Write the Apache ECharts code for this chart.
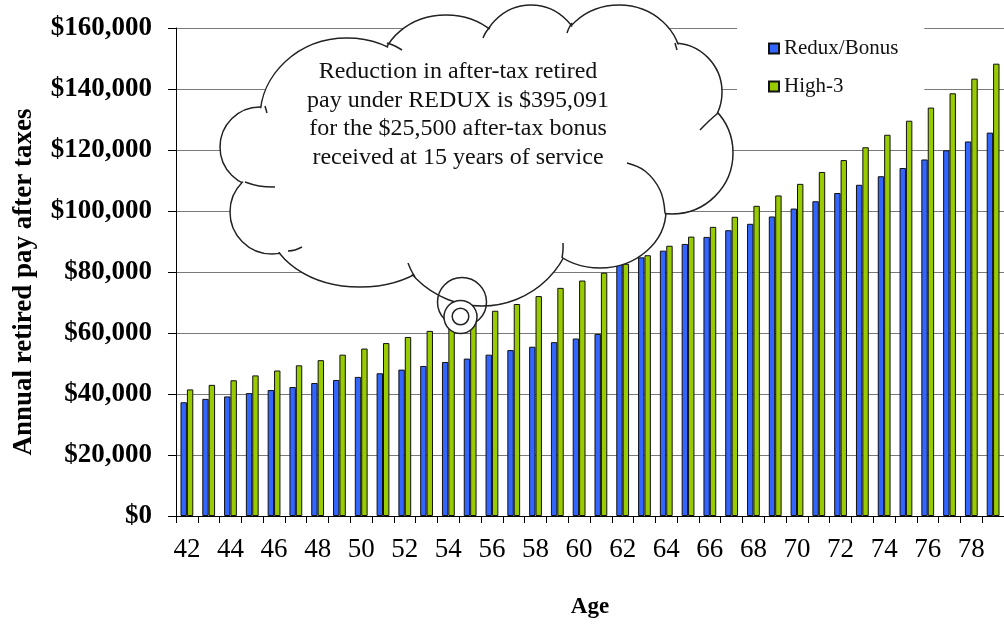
<!DOCTYPE html>
<html>
<head>
<meta charset="utf-8">
<script src="https://cdn.jsdelivr.net/npm/echarts@6/dist/echarts.min.js"></script>
<style>
  html, body { margin: 0; padding: 0; background: #fff; }
  #chart { width: 1004px; height: 626px; }
</style>
</head>
<body>
<div id="chart"></div>
<script>
// ages along the x axis
const ages = ['42','43','44','45','46','47','48','49','50','51','52','53','54','55','56','57','58','59','60','61',
  '62','63','64','65','66','67','68','69','70','71','72','73','74','75','76','77','78','79'];

// annual retired pay after taxes
const reduxBonus = [37300, 38400, 39200, 40300, 41300, 42300, 43600, 44600, 45600, 46800, 48000, 49200, 50500, 51600,
  52900, 54400, 55500, 57000, 58200, 59700, 82900, 84800, 87000, 89200, 91500, 93700, 95800, 98200, 100800, 103200,
  105900, 108600, 111400, 114100, 116900, 119900, 122800, 125700];
const high3 = [41500, 43000, 44500, 46100, 47700, 49400, 51100, 52900, 54900, 56700, 58700, 60700, 62800, 65000,
  67300, 69500, 72100, 74800, 77200, 79800, 82700, 85500, 88600, 91600, 94800, 98100, 101700, 105100, 108900, 112800,
  116700, 120900, 125000, 129600, 133900, 138600, 143400, 148300];

const seriesNames = ['Redux/Bonus', 'High-3'];
const noteLines = ['Reduction in after-tax retired', 'pay under REDUX is $395,091',
  'for the $25,500 after-tax bonus', 'received at 15 years of service'];
const yTitle = 'Annual retired pay after taxes';
const xTitle = 'Age';

const serif = 'Liberation Serif';
const ink = '#222';

// cloud callout outline: lobes + little inner creases
const lobes = [
  {type: 'circle', cx: 260, cy: 147, r: 40},
  {type: 'circle', cx: 272, cy: 212, r: 42},
  {type: 'ellipse', cx: 360, cy: 225, rx: 90, ry: 62},
  {type: 'circle', cx: 482, cy: 213, r: 93},
  {type: 'ellipse', cx: 600, cy: 210, rx: 66, ry: 58},
  {type: 'circle', cx: 672, cy: 153, r: 61},
  {type: 'circle', cx: 673, cy: 92, r: 49},
  {type: 'ellipse', cx: 619, cy: 62, rx: 62, ry: 57},
  {type: 'ellipse', cx: 531, cy: 58, rx: 51, ry: 53},
  {type: 'ellipse', cx: 446, cy: 70, rx: 65, ry: 55},
  {type: 'ellipse', cx: 347, cy: 118, rx: 87, ry: 80}
];
const creases = [
  [[387, 43], [395, 46], [402, 50]],
  [[245, 182], [259, 186], [275, 187]],
  [[288, 251], [295, 250], [302, 247]],
  [[415, 277], [411, 270], [408, 263]],
  [[562, 258], [563, 250], [563, 243]],
  [[665, 213], [660, 190], [645, 171], [627, 163]],
  [[718, 113], [709, 121], [700, 130]],
  [[675, 43], [677, 50]],
  [[572, 23], [569, 28], [567, 33]],
  [[490, 27], [486, 32], [483, 38]],
  [[265, 106], [267, 113]]
];

function lobeShape(l, shrink) {
  if (l.type === 'circle') return {cx: l.cx, cy: l.cy, r: l.r - shrink};
  return {cx: l.cx, cy: l.cy, rx: l.rx - shrink, ry: l.ry - shrink};
}

const graphics = [];
// pass 1: outlined lobes
lobes.forEach(l => graphics.push({
  type: l.type, z: 10, shape: lobeShape(l, 0),
  style: {fill: '#fff', stroke: ink, lineWidth: 1.5}
}));
// pass 2: white fill erases inner strokes
lobes.forEach(l => graphics.push({
  type: l.type, z: 10, shape: lobeShape(l, 1.2),
  style: {fill: '#fff', stroke: null}
}));
graphics.push({type: 'ellipse', z: 10, shape: {cx: 470, cy: 150, rx: 200, ry: 95}, style: {fill: '#fff'}});
creases.forEach(pts => graphics.push({
  type: 'polyline', z: 10, shape: {points: pts, smooth: 0.4},
  style: {fill: null, stroke: ink, lineWidth: 1.5}
}));
// thought bubbles
graphics.push({type: 'circle', z: 11, shape: {cx: 462, cy: 302, r: 24.5}, style: {fill: null, stroke: ink, lineWidth: 1.5}});
graphics.push({type: 'circle', z: 11, shape: {cx: 460.5, cy: 317, r: 16.5}, style: {fill: '#fff', stroke: ink, lineWidth: 1.5}});
graphics.push({type: 'circle', z: 11, shape: {cx: 460.5, cy: 316.5, r: 8.3}, style: {fill: '#fff', stroke: ink, lineWidth: 1.5}});
graphics.push({
  type: 'text', z: 12, x: 458, y: 114.5,
  style: {text: noteLines.join('\n'), font: '24px "' + serif + '"', fill: '#111',
    align: 'center', verticalAlign: 'middle', textAlign: 'center', textVerticalAlign: 'middle', lineHeight: 28.5}
});
// y axis title
graphics.push({
  type: 'text', z: 12, x: 24, y: 282, rotation: Math.PI / 2,
  style: {text: yTitle, font: 'bold 27px "' + serif + '"', fill: '#000',
    align: 'center', verticalAlign: 'middle', textAlign: 'center', textVerticalAlign: 'middle'}
});

const chart = echarts.init(document.getElementById('chart'), null, {renderer: 'canvas'});

const option = {
  backgroundColor: '#fff',
  animation: false,
  grid: {left: 176, top: 28, width: 834, height: 488, containLabel: false},
  legend: {
    data: seriesNames,
    orient: 'vertical',
    left: 737, top: 20,
    padding: [18, 26, 12, 31],
    itemGap: 17,
    itemWidth: 10, itemHeight: 10,
    icon: 'rect',
    backgroundColor: '#fff',
    textStyle: {fontFamily: serif, fontSize: 21, color: '#111'}
  },
  xAxis: {
    type: 'category',
    data: ages,
    name: xTitle,
    nameLocation: 'middle',
    nameGap: 80,
    nameTextStyle: {fontFamily: serif, fontWeight: 'bold', fontSize: 23, color: '#000'},
    axisLine: {lineStyle: {color: '#000', width: 1}},
    axisTick: {show: true, interval: 0, length: 7, lineStyle: {color: '#000'}},
    axisLabel: {interval: 1, margin: 20, fontFamily: serif, fontSize: 27, color: '#000'},
    splitLine: {show: false}
  },
  yAxis: {
    type: 'value',
    min: 0, max: 160000, interval: 20000,
    axisLine: {show: true, lineStyle: {color: '#000', width: 1}},
    axisTick: {show: true, length: 8, lineStyle: {color: '#000'}},
    axisLabel: {
      margin: 24, fontFamily: serif, fontWeight: 'bold', fontSize: 27, color: '#000',
      formatter: v => '$' + v.toLocaleString('en-US')
    },
    splitLine: {show: true, lineStyle: {color: '#7a7a7a', width: 1}}
  },
  series: [
    {
      name: seriesNames[0], type: 'bar', data: reduxBonus,
      barWidth: 6.4, barGap: '0%',
      itemStyle: {color: '#3366ff', borderColor: '#111', borderWidth: 1}
    },
    {
      name: seriesNames[1], type: 'bar', data: high3,
      barWidth: 6.4,
      itemStyle: {color: '#99cc00', borderColor: '#111', borderWidth: 1}
    }
  ],
  graphic: {elements: graphics}
};

chart.setOption(option);
</script>
</body>
</html>
